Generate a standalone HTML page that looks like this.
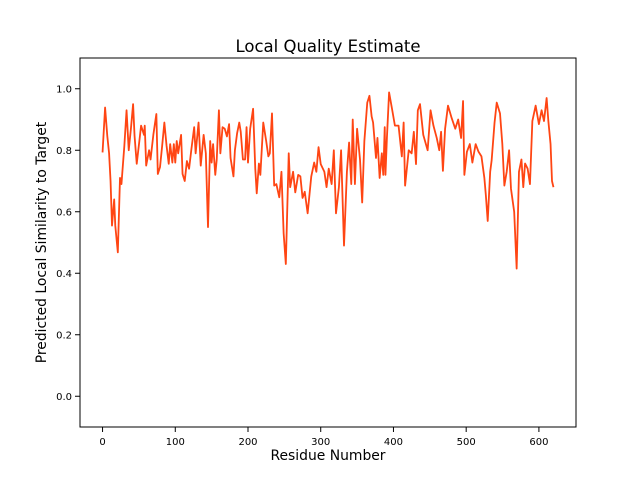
<!DOCTYPE html>
<html><head><meta charset="utf-8">
<style>
html,body{margin:0;padding:0;background:#fff;}
svg{display:block;font-family:"DejaVu Sans","Liberation Sans",sans-serif;}
</style></head>
<body>
<svg id="chart" width="640" height="480" viewBox="0 0 640 480" xmlns="http://www.w3.org/2000/svg">
<rect x="0" y="0" width="640" height="480" fill="#fff"/>
<text x="328" y="52" text-anchor="middle" font-size="16.5" fill="#000">Local Quality Estimate</text>
<g id="plot"></g>
<g id="xticks"></g>
<g id="yticks"></g>
<rect x="80" y="58" width="496" height="369" fill="none" stroke="#000" stroke-width="1"/>
<text x="328" y="460" text-anchor="middle" font-size="13.9" fill="#000">Residue Number</text>
<text transform="translate(46,242.5) rotate(-90)" text-anchor="middle" font-size="13.9" fill="#000">Predicted Local Similarity to Target</text>
</svg>
<script>
const residues = [0,3.5,6.5,9,11,13,16,17.5,21,24,26,30,33,36,39,42,44,47,51,53,57,58,60,64,66,70,74,76,79,82,85,88,91,93,96,98,100,102,104,108,110,113,116,119,122,126,128,132,135,139,142,145,148,150,152,155,157,160,162,165,168,171,174,176,180,182,185,188,190,193,
196,198,200,203,207,210,212,215,217,221,225,228,230,233,236,239,243,246,249,252,256,258,262,265,269,272,275,278,282,287,291,294,297,300,305,308,311,315,318,321,325,328,332,336,339,342,344,347,350,354,357,360,364,367,370,372,376,378,381,384,386,388,
389,391,394,398,402,407,411.5,414,416,421,425,428,431,433.5,436.5,441,447,451,455,459.5,463,465.5,468,471,475,480,485,489,493,495.7,497.5,501,505,508.5,513,517,521,525,527,529.6,533,535,539,542,546.5,549.7,552.5,555.7,559,561.6,566,569.4,572.6,576,578.5,581,584.5,587.7,591,595.5,600,603.7,607,610.6,613,616,618,620];
const scores = [0.793,0.939,0.847,0.79,0.70,0.555,0.64,0.555,0.468,0.71,0.69,0.815,0.93,0.80,0.87,0.95,0.847,0.756,0.838,0.88,0.85,0.88,0.75,0.80,0.77,0.853,0.918,0.723,0.745,0.815,0.89,0.815,0.756,0.82,0.76,0.82,0.76,0.83,0.79,0.85,0.723,0.70,0.765,0.74,0.80,0.875,0.79,0.89,0.75,0.85,0.79,0.55,0.83,0.76,0.82,0.72,0.77,0.93,0.79,0.875,0.87,0.845,0.885,0.775,0.715,0.80,0.855,0.89,0.86,0.77,
0.77,0.875,0.76,0.87,0.935,0.74,0.66,0.757,0.72,0.89,0.83,0.78,0.79,0.92,0.685,0.69,0.647,0.73,0.53,0.43,0.79,0.68,0.73,0.663,0.72,0.715,0.645,0.665,0.595,0.715,0.76,0.73,0.81,0.755,0.73,0.68,0.74,0.69,0.80,0.595,0.68,0.80,0.49,0.73,0.825,0.69,0.90,0.69,0.87,0.77,0.63,0.83,0.955,0.977,0.91,0.89,0.775,0.84,0.71,0.79,0.72,0.875,
0.72,0.84,0.988,0.935,0.88,0.88,0.78,0.89,0.685,0.80,0.79,0.86,0.755,0.93,0.95,0.85,0.80,0.93,0.88,0.84,0.80,0.86,0.733,0.87,0.945,0.905,0.87,0.90,0.84,0.96,0.72,0.795,0.82,0.76,0.82,0.795,0.78,0.71,0.655,0.57,0.73,0.767,0.89,0.955,0.92,0.82,0.685,0.73,0.80,0.675,0.60,0.415,0.73,0.77,0.68,0.757,0.74,0.69,0.895,0.945,0.885,0.93,0.895,0.97,0.895,0.82,0.70,0.68];
const xTickVals = [0,100,200,300,400,500,600];
const yTickVals = [0.0,0.2,0.4,0.6,0.8,1.0];
const yTickLabels = ["0.0","0.2","0.4","0.6","0.8","1.0"];

const NS = "http://www.w3.org/2000/svg";
const X0 = 80, X1 = 576, Y0 = 427, Y1 = 58;
const xMin = -31, xMax = 651, yMin = -0.1, yMax = 1.1;
function xScale(v){ return X0 + (v - xMin) / (xMax - xMin) * (X1 - X0); }
function yScale(v){ return Y0 - (v - yMin) / (yMax - yMin) * (Y0 - Y1); }

const plot = document.getElementById('plot');
let d = '';
const n = Math.min(residues.length, scores.length);
for (let i = 0; i < n; i++) {
  d += (i ? 'L' : 'M') + xScale(residues[i]).toFixed(2) + ',' + yScale(scores[i]).toFixed(2);
}
const line = document.createElementNS(NS, 'path');
line.setAttribute('d', d);
line.setAttribute('fill', 'none');
line.setAttribute('stroke', '#ff4513');
line.setAttribute('stroke-width', '1.8');
line.setAttribute('stroke-linejoin', 'round');


plot.appendChild(line);

const xg = document.getElementById('xticks');
xTickVals.forEach(function(v){
  const x = xScale(v);
  const t = document.createElementNS(NS, 'line');
  t.setAttribute('x1', x); t.setAttribute('x2', x);
  t.setAttribute('y1', Y0); t.setAttribute('y2', Y0 + 5);
  t.setAttribute('stroke', '#000');
  
  
  xg.appendChild(t);
  const l = document.createElementNS(NS, 'text');
  l.setAttribute('x', x); l.setAttribute('y', Y0 + 18);
  l.setAttribute('text-anchor', 'middle');
  l.setAttribute('font-size', '10');
  l.textContent = String(v);
  
  
  xg.appendChild(l);
});
const yg = document.getElementById('yticks');
yTickVals.forEach(function(v, i){
  const y = yScale(v);
  const t = document.createElementNS(NS, 'line');
  t.setAttribute('x1', X0 - 5); t.setAttribute('x2', X0);
  t.setAttribute('y1', y); t.setAttribute('y2', y);
  t.setAttribute('stroke', '#000');
  
  
  yg.appendChild(t);
  const l = document.createElementNS(NS, 'text');
  l.setAttribute('x', X0 - 8); l.setAttribute('y', y + 3.5);
  l.setAttribute('text-anchor', 'end');
  l.setAttribute('font-size', '10');
  l.textContent = yTickLabels[i];
  
  
  yg.appendChild(l);
});
</script>
</body></html>
